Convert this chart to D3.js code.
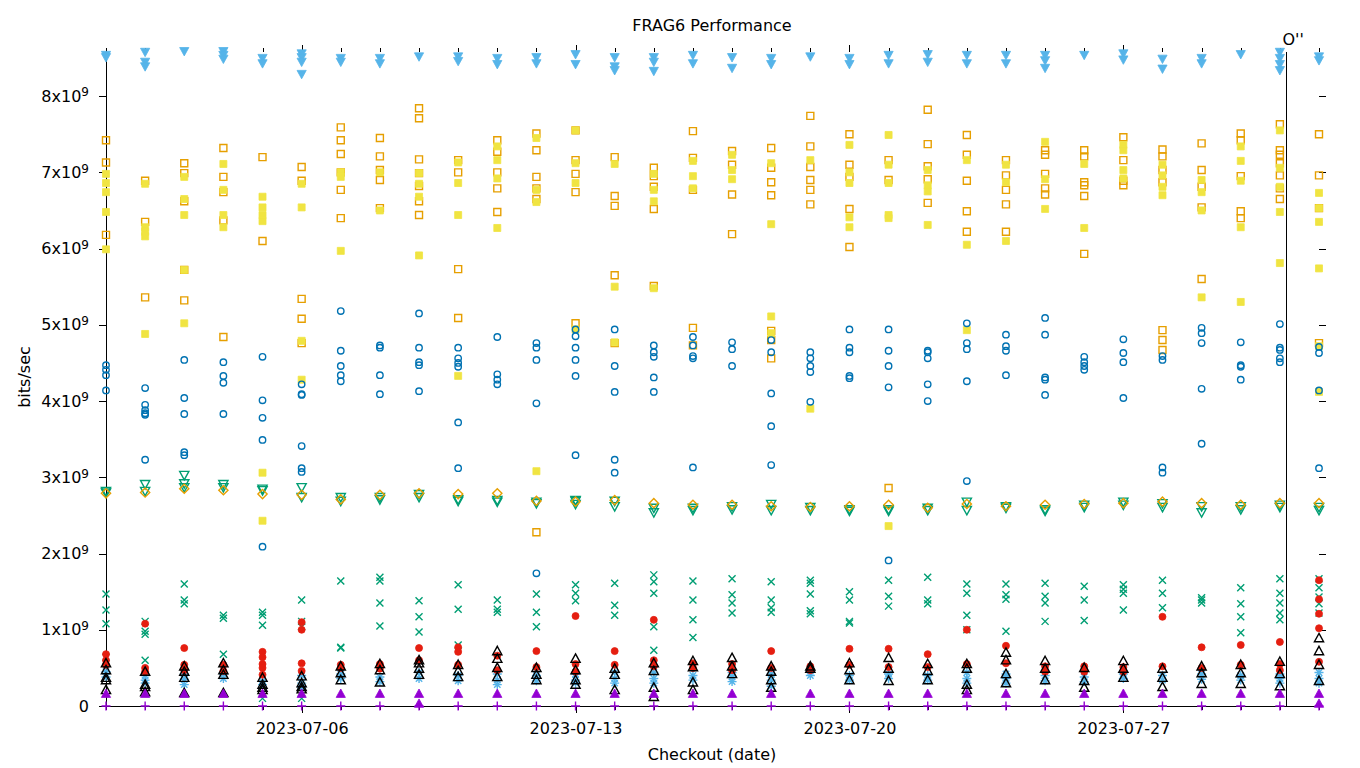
<!DOCTYPE html>
<html>
<head>
<meta charset="utf-8">
<script src="https://cdn.jsdelivr.net/npm/d3@7"></script>
<style>
  html, body { margin: 0; padding: 0; background: #fff; }
  svg { display: block; font-family: "DejaVu Sans", sans-serif; }
</style>
</head>
<body>
<svg id="chart" width="1360" height="768"></svg>
<script>
// ---------------- DATA ----------------
const dates = ["2023-07-01","2023-07-02","2023-07-03","2023-07-04","2023-07-05","2023-07-06","2023-07-07","2023-07-08",
  "2023-07-09","2023-07-10","2023-07-11","2023-07-12","2023-07-13","2023-07-14","2023-07-15","2023-07-16",
  "2023-07-17","2023-07-18","2023-07-19","2023-07-20","2023-07-21","2023-07-22","2023-07-23","2023-07-24",
  "2023-07-25","2023-07-26","2023-07-27","2023-07-28","2023-07-29","2023-07-30","2023-07-31","2023-08-01"];
const xTickLabels = ["2023-07-06","2023-07-13","2023-07-20","2023-07-27"];
const yTickValues = [0, 1e9, 2e9, 3e9, 4e9, 5e9, 6e9, 7e9, 8e9];
const chartTitle = "FRAG6 Performance";
const xTitle = "Checkout (date)";
const yTitle = "bits/sec";
const eventDate = "2023-07-31T04:00:00Z";
const eventLabel = "O''";

// values in Gbit/s, one list of runs per date
const s1Plus = dates.map(() => [0]);
const s2Cross = [[1.47,1.26,1.08,0.64],[1.11,0.98,0.94,0.60],[1.60,1.39,1.34],[1.19,1.15,0.68],[1.23,1.19,1.06,0.10],[1.39,1.11,1.04,0.10],
  [1.64,0.77,0.76],[1.69,1.64,1.35,1.05],[1.38,1.17,0.97],[1.59,1.27,0.80],[1.39,1.27,1.23],[1.47,1.23,1.04],[1.59,1.48,1.38],
  [1.61,1.32,1.19],[1.72,1.63,1.48,1.04,0.73],[1.64,1.39,1.13,0.90],[1.67,1.46,1.35,1.22],[1.63,1.39,1.29,1.23],[1.65,1.61,1.47,1.25,1.21],
  [1.50,1.39,1.11,1.09],[1.65,1.44,1.31],[1.69,1.39,1.34],[1.60,1.48,1.19,1.00],[1.60,1.46,1.40,0.98],[1.61,1.44,1.35,1.11],
  [1.57,1.39,1.12],[1.59,1.53,1.48,1.26],[1.65,1.48,1.29],[1.42,1.39,1.35],[1.55,1.34,1.17,0.96],[1.67,1.48,1.35,1.22,1.13],[1.67,1.55,1.43,1.34,1.22]];
const s3Star = [[0.45,0.38],[0.40,0.34,0.30],[0.42,0.35,0.28],[0.42,0.36],[0.33,0.28],[0.40,0.30,0.24],[0.42,0.36],[0.38,0.32],
  [0.44,0.36],[0.40,0.33],[0.42,0.34,0.28],[0.40,0.33],[0.42,0.34,0.30],[0.44,0.36,0.30],[0.44,0.36,0.30],[0.40,0.34],
  [0.44,0.38,0.32],[0.42,0.34,0.26],[0.46,0.40],[0.40,0.34],[0.42,0.36],[0.40,0.34],[0.44,0.36,0.30],[0.42,0.36,0.30],
  [0.40,0.33],[0.38,0.32],[0.42,0.36],[0.40,0.34],[0.42,0.35],[0.40,0.34],[0.42,0.36,0.30],[0.44,0.36,0.30]];
const s4OpenSquare = [[7.42,7.13,6.18],[6.89,6.35,5.36],[7.12,6.99,6.62,5.72,5.32],[7.32,6.94,6.74,6.37,4.84],[7.20,6.10],
  [7.07,6.89,5.34,5.08,4.76],[7.59,7.42,7.24,7.00,6.77,6.40],[7.45,7.21,7.03,6.90,6.53],[7.84,7.71,7.17,6.99,6.82,6.62,6.44],
  [7.16,7.00,5.73,5.09],[7.42,7.27,7.00,6.79,6.48],[7.51,7.29,6.94,6.79,6.65,2.28],[7.55,7.16,6.98,6.74,5.02],
  [7.20,6.69,6.56,5.65,4.76],[7.06,6.95,6.81,6.52,5.51],[7.54,7.19,6.77,4.96,4.73],[7.28,7.10,6.71,6.19],
  [7.32,7.06,6.87,6.70,4.92,4.80,4.56],[7.74,7.34,7.07,6.90,6.77,6.58],[7.50,7.10,6.94,6.52,6.02],[7.16,6.90,2.86],
  [7.82,7.37,7.08,6.91,6.60],[7.49,7.23,6.89,6.49,6.22],[7.16,6.96,6.77,6.58,6.22],[7.29,7.23,6.98,6.79,6.71],
  [7.29,7.21,6.87,6.83,6.69,5.93],[7.46,7.16,6.89,6.83],[7.30,7.21,7.03,6.87,4.93,4.80,4.67],[7.38,7.03,6.81,6.54,5.60],
  [7.51,7.42,6.95,6.49,6.40],[7.63,7.29,7.23,7.12,6.96,6.79,6.65],[7.50,6.96,6.53,4.76]];
const s5FilledSquare = [[6.98,6.86,6.74,6.48,5.99],[6.85,6.28,6.22,6.16,4.88],[6.94,6.65,6.44,5.72,5.02],[7.11,6.77,6.44,6.28],
  [6.68,6.54,6.44,6.36,3.06,2.43],[6.85,6.54,4.79,4.28],[7.00,6.94,5.97],[7.00,6.50],[6.99,6.85,6.68,5.91],[7.13,6.86,6.44,4.33],
  [7.34,7.16,6.92,6.27],[7.45,6.77,6.61,3.08],[7.55,7.12,6.86,4.94],[7.11,5.50,4.77],[6.98,6.77,6.62,5.48],[7.15,6.95,6.79],
  [7.23,7.03,6.91],[7.12,6.32,5.11,4.89],[7.16,3.90],[7.36,7.00,6.86,6.41,6.28],[7.49,7.10,6.86,6.44,6.40,2.36],
  [7.03,6.83,6.75,6.31],[7.16,6.05,4.93],[7.10,6.87,6.10],[7.40,6.91,6.52],[7.11,6.27],[7.36,7.29,7.03,6.92],
  [7.10,6.96,6.81,6.70],[6.90,6.74,6.50,5.36],[7.34,7.15,6.89,6.28,5.30],[7.55,7.06,6.81,6.48,5.81],[6.73,6.53,6.35,5.74,4.72,4.12]];
const s6OpenCircle = [[4.47,4.41,4.34,4.14],[4.17,3.95,3.88,3.84,3.82,3.23],[4.54,4.04,3.83,3.33,3.29],[4.51,4.33,4.24,3.83],
  [4.58,4.01,3.78,3.49,2.09],[4.22,4.09,4.08,3.41,3.12,3.07],[5.18,4.66,4.46,4.34,4.26],[4.73,4.70,4.34,4.09],
  [5.15,4.70,4.51,4.47,4.13],[4.70,4.56,4.50,4.45,3.72,3.12],[4.84,4.35,4.28,4.22],[4.76,4.70,4.54,3.97,1.74],
  [4.94,4.85,4.70,4.54,4.33,3.29],[4.94,4.46,4.12,3.23,3.06],[4.73,4.64,4.58,4.31,4.12],[4.84,4.73,4.59,4.56,3.13],
  [4.77,4.68,4.46],[4.80,4.64,4.10,3.67,3.16],[4.64,4.56,4.46,4.38,3.99],[4.94,4.70,4.64,4.33,4.30],[4.94,4.66,4.46,4.18,1.91],
  [4.66,4.64,4.56,4.22,4.00],[5.02,4.76,4.68,4.26,2.95],[4.87,4.72,4.66,4.34],[5.09,4.87,4.31,4.28,4.08],[4.58,4.51,4.46,4.41],
  [4.81,4.63,4.51,4.04],[4.59,4.54,3.13,3.06],[4.96,4.89,4.76,4.16,3.44],[4.77,4.47,4.45,4.28],[5.01,4.70,4.67,4.56,4.51],
  [4.71,4.63,4.14,3.12]];
const s7FilledCircle = [[0.68,0.60,0.54],[1.08,0.50,0.45],[0.76,0.54,0.47],[0.54,0.46],[0.71,0.64,0.55,0.50,0.41],
  [1.10,1.00,0.56,0.46],[0.54,0.50],[0.55,0.49],[0.76,0.60],[0.77,0.71,0.54],[0.66,0.47],[0.72,0.51],[1.18,0.55,0.45],
  [0.72,0.54],[1.13,0.60,0.52],[0.56,0.50],[0.55,0.47],[0.72,0.50],[0.52,0.47],[0.75,0.54],[0.75,0.51],[0.68,0.51],
  [1.00,0.55],[0.79,0.56],[0.52,0.45],[0.52,0.45],[0.51,0.45],[1.17,0.52],[0.77,0.50],[0.80,0.54],[0.84,0.55,0.47],
  [1.65,1.40,1.21,1.02,0.58]];
const s8OpenTriangle = [[0.56,0.47,0.37,0.34,0.21],[0.45,0.28,0.25,0.18],[0.52,0.45,0.37,0.17],[0.56,0.47,0.41,0.17],
  [0.37,0.28,0.24,0.21],[0.39,0.30,0.25,0.22],[0.52,0.43,0.34],[0.55,0.47,0.31],[0.60,0.56,0.49,0.41],[0.54,0.46,0.38],
  [0.72,0.62,0.50,0.38],[0.50,0.41,0.34],[0.62,0.47,0.34,0.28],[0.49,0.41,0.21],[0.56,0.46,0.24,0.12],[0.59,0.51,0.31,0.21],
  [0.63,0.52,0.42],[0.52,0.45,0.34,0.24],[0.52,0.49],[0.56,0.47,0.34],[0.63,0.49,0.33],[0.55,0.46,0.34],[0.55,0.49,0.28,0.21],
  [0.70,0.60,0.42,0.30],[0.59,0.49,0.34],[0.50,0.33,0.24],[0.59,0.49,0.37],[0.49,0.37,0.25],[0.52,0.43,0.29],[0.54,0.43,0.29],
  [0.58,0.42,0.26],[0.89,0.72,0.54,0.33]];
const s9FilledTriangle = [[0.16],[0.16],[0.16],[0.16],[0.16],[0.16],[0.16],[0.16],[0.16,0.03],[0.16],[0.16],[0.16],[0.16],[0.16],
  [0.16],[0.16],[0.16],[0.16],[0.16],[0.16],[0.16],[0.16],[0.16],[0.16],[0.16],[0.16],[0.16],[0.16],[0.16],[0.16],[0.16],[0.16,0.03]];
const s10OpenInvTriangle = [[2.82,2.80],[2.91,2.82],[3.03,2.92,2.87],[2.91,2.87],[2.85,2.83],[2.87,2.74],[2.74,2.69],[2.74,2.71],
  [2.78,2.74],[2.71,2.69],[2.70,2.68],[2.68,2.66],[2.70,2.69,2.65],[2.69,2.62],[2.60,2.54],[2.60,2.57],[2.62,2.58],[2.65,2.57],
  [2.61,2.57],[2.58,2.56],[2.58,2.56],[2.60,2.57],[2.68,2.57],[2.62,2.60],[2.58,2.56],[2.64,2.61],[2.68,2.64],[2.66,2.61],
  [2.62,2.54],[2.62,2.58],[2.64,2.61],[2.61,2.57]];
const s11FilledInvTriangle = [[8.54,8.51],[8.58,8.45,8.39],[8.59],[8.59,8.54,8.49],[8.50,8.43],[8.56,8.51,8.45,8.29],[8.50,8.45],
  [8.50,8.43],[8.52],[8.52,8.46],[8.50,8.42],[8.51,8.43],[8.55,8.42],[8.51,8.39,8.34],[8.51,8.45,8.33],[8.54,8.43],[8.51,8.37],
  [8.50,8.42],[8.52],[8.50,8.42],[8.54,8.43],[8.55,8.45],[8.54,8.43],[8.54,8.43],[8.54,8.47,8.37],[8.54],[8.56,8.48],
  [8.49,8.36],[8.50,8.43],[8.55],[8.58,8.50,8.42,8.34],[8.52,8.47]];
const s12OpenDiamond = [[2.79],[2.80],[2.85],[2.83],[2.78],[2.77],[2.71],[2.77],[2.79],[2.78],[2.79],[2.69],[2.68],[2.70],[2.66],
  [2.64],[2.64],[2.62],[2.61],[2.62],[2.64],[2.60],[2.65],[2.62],[2.64],[2.65],[2.66],[2.68],[2.66],[2.64],[2.66],[2.66]];

const seriesColors = ["#9400d3","#009e73","#56b4e9","#e69f00","#f0e442","#0072b2","#e51e10","#000000","#9400d3","#009e73","#56b4e9","#e69f00"];
const seriesShapes = ["plus","cross","star","square","squareF","circle","circleF","tri","triF","triD","triDF","diamond"];
const seriesValues = [s1Plus,s2Cross,s3Star,s4OpenSquare,s5FilledSquare,s6OpenCircle,s7FilledCircle,s8OpenTriangle,
  s9FilledTriangle,s10OpenInvTriangle,s11FilledInvTriangle,s12OpenDiamond];

// ---------------- CHART ----------------
const svg = d3.select("#chart");
const m = {left: 106, right: 1319, top: 51.5, bottom: 706};
const parse = d3.utcParse("%Y-%m-%d");

const x = d3.scaleUtc().domain([parse(dates[0]), parse(dates[dates.length - 1])]).range([m.left, m.right]);
const y = d3.scaleLinear().domain([0, 8.585e9]).range([m.bottom, m.top]);

const shapePaths = {
  plus: "M-4.5,0H4.5M0,-4.5V4.5",
  cross: "M-3.5,-3.5L3.5,3.5M-3.5,3.5L3.5,-3.5",
  star: "M-4.5,0H4.5M0,-4.5V4.5M-3.2,-3.2L3.2,3.2M-3.2,3.2L3.2,-3.2",
  square: "M-3.5,-3.5H3.5V3.5H-3.5Z",
  squareF: "M-3.5,-3.5H3.5V3.5H-3.5Z",
  circle: "M-3.2,0A3.2,3.2 0 1 0 3.2,0A3.2,3.2 0 1 0 -3.2,0Z",
  circleF: "M-3.5,0A3.5,3.5 0 1 0 3.5,0A3.5,3.5 0 1 0 -3.5,0Z",
  tri: "M0,-4.8L4.6,3.6H-4.6Z",
  triF: "M0,-4.8L4.6,3.6H-4.6Z",
  triD: "M0,4.8L4.6,-3.6H-4.6Z",
  triDF: "M0,4.8L4.6,-3.6H-4.6Z",
  diamond: "M0,-4.6L4.6,0L0,4.6L-4.6,0Z"
};
const filled = new Set(["squareF","circleF","triF","triDF"]);

// axes
const yAxis = d3.axisLeft(y).tickValues(yTickValues).tickSize(7).tickSizeOuter(0).tickPadding(10);
const gy = svg.append("g").attr("transform", `translate(${m.left},0)`).call(yAxis);
gy.selectAll(".tick text").each(function(d) {
  const t = d3.select(this);
  t.text(null).attr("font-size", 16).attr("font-family", "DejaVu Sans").attr("fill", "#000");
  if (d === 0) { t.text("0"); }
  else {
    t.append("tspan").text(`${d / 1e9}x10`);
    t.append("tspan").attr("dy", "-0.45em").attr("font-size", 12).text("9");
  }
});

const majorDates = xTickLabels.map(parse);
const minorDates = dates.map(parse);
const xAxis = d3.axisBottom(x).tickValues(majorDates).tickFormat(d3.utcFormat("%Y-%m-%d")).tickSize(7).tickSizeOuter(0).tickPadding(10);
const gx = svg.append("g").attr("transform", `translate(0,${m.bottom})`).call(xAxis);
gx.selectAll(".tick text").attr("font-size", 16).attr("font-family", "DejaVu Sans").attr("fill", "#000");
svg.append("g").attr("transform", `translate(0,${m.bottom})`)
  .call(d3.axisBottom(x).tickValues(minorDates).tickSize(3.5).tickFormat(""))
  .call(g => g.select(".domain").remove());
// mirrored ticks (top and right)
svg.append("g").attr("transform", `translate(0,${m.top})`)
  .call(d3.axisTop(x).tickValues(majorDates).tickSize(7).tickFormat(""))
  .call(g => g.select(".domain").remove());
svg.append("g").attr("transform", `translate(0,${m.top})`)
  .call(d3.axisTop(x).tickValues(minorDates).tickSize(3.5).tickFormat(""))
  .call(g => g.select(".domain").remove());
svg.append("g").attr("transform", `translate(${m.right},0)`)
  .call(d3.axisRight(y).tickValues(yTickValues.filter(v => v > 0)).tickSize(7).tickFormat(""))
  .call(g => g.select(".domain").remove());
svg.selectAll(".domain, .tick line").attr("stroke", "#000").attr("stroke-width", 1).attr("shape-rendering", "crispEdges");

// event marker
const ex = x(new Date(eventDate));
svg.append("line").attr("x1", ex).attr("x2", ex).attr("y1", m.top).attr("y2", m.bottom)
  .attr("stroke", "#000").attr("stroke-width", 1).attr("shape-rendering", "crispEdges");
svg.append("text").attr("x", ex - 4).attr("y", 45).attr("font-size", 16).text(eventLabel);

// points
const plot = svg.append("g");
seriesValues.forEach((vals, si) => {
  const pts = [];
  vals.forEach((arr, di) => arr.forEach(v => pts.push({d: parse(dates[di]), v: v * 1e9})));
  const shape = seriesShapes[si], col = seriesColors[si];
  plot.append("g").selectAll("path").data(pts).join("path")
    .attr("transform", p => `translate(${x(p.d)},${y(p.v)})`)
    .attr("d", shapePaths[shape])
    .attr("fill", filled.has(shape) ? col : "none")
    .attr("stroke", col)
    .attr("stroke-width", filled.has(shape) ? 0.8 : 1.4);
});

// titles
svg.append("text").attr("x", 712).attr("y", 31).attr("text-anchor", "middle").attr("font-size", 16).text(chartTitle);
svg.append("text").attr("x", 712).attr("y", 760).attr("text-anchor", "middle").attr("font-size", 16).text(xTitle);
svg.append("text").attr("transform", "translate(30,377) rotate(-90)").attr("text-anchor", "middle").attr("font-size", 16).text(yTitle);
</script>
</body>
</html>
